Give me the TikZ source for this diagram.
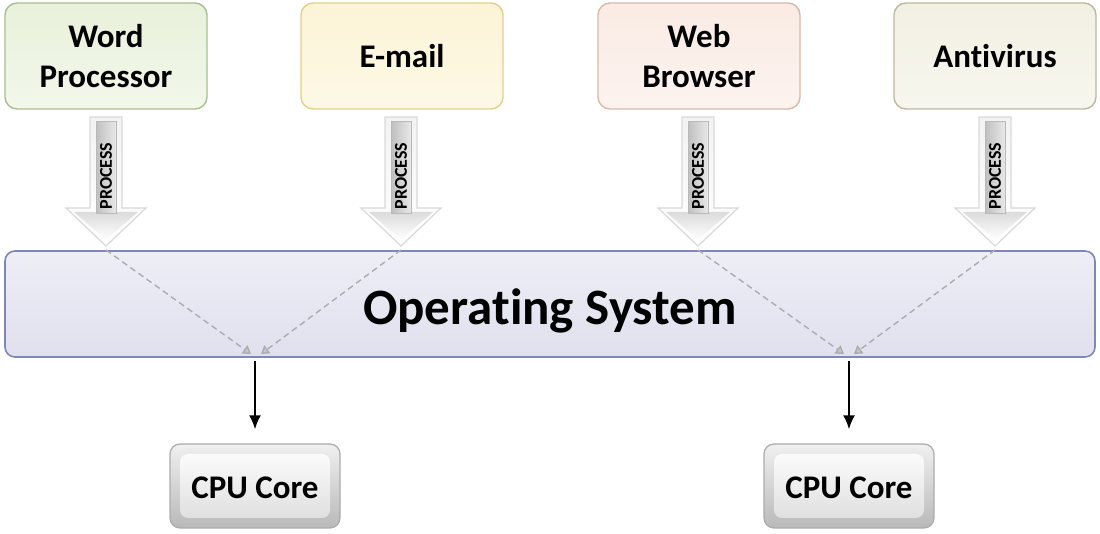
\documentclass[tikz,border=0pt]{standalone}
\usepackage{fontspec}
\setmainfont{Carlito}[Ligatures=NoCommon]
\usetikzlibrary{arrows.meta,shadings}
\definecolor{wpfill}{HTML}{E8F1DA}
\definecolor{wpdraw}{HTML}{A9BF8F}
\definecolor{emfill}{HTML}{FCF4D6}
\definecolor{emdraw}{HTML}{E3CF8A}
\definecolor{wbfill}{HTML}{FAEBE4}
\definecolor{wbdraw}{HTML}{D9B9AB}
\definecolor{avfill}{HTML}{F2F0E3}
\definecolor{avdraw}{HTML}{BDB8A2}
\definecolor{osfillt}{HTML}{EEEEF7}
\definecolor{osfillb}{HTML}{E0E0EE}
\definecolor{osdraw}{HTML}{8087B5}
\begin{document}
\begin{tikzpicture}[x=0.5pt,y=-0.5pt,
  appbox/.style={rounded corners=6pt, minimum width=101pt, minimum height=53pt,
    line width=0.7pt, align=center, font=\fontsize{16.5}{20}\selectfont\bfseries},
  cpubox/.style={rounded corners=5pt, minimum width=85pt, minimum height=42pt,
    draw=gray!65, line width=0.6pt, top color=gray!12, bottom color=gray!55,
    path picture={\shade[rounded corners=4pt, top color=white, bottom color=gray!28]
      ([shift={(5pt,-5pt)}]path picture bounding box.north west) rectangle
      ([shift={(-5pt,5pt)}]path picture bounding box.south east);}},
  cputext/.style={font=\fontsize{16.5}{20}\selectfont\bfseries},
  proctext/.style={rotate=90, font=\fontsize{9}{10}\selectfont\bfseries},
  dashconn/.style={gray!65, line width=0.7pt, dash pattern=on 3pt off 2pt,
    -{Triangle[width=5pt,length=4pt,fill=gray!45]}},
  blackarrow/.style={line width=1.1pt, -{Latex[length=7pt,width=6pt]}}
]
\useasboundingbox (0,0) rectangle (1100,534);
\fill[white] (0,0) rectangle (1100,534);

% application boxes
\node[appbox, draw=wpdraw, top color=wpfill, bottom color=wpfill!55] (wp) at (106,56) {Word\\Processor};
\node[appbox, draw=emdraw, top color=emfill, bottom color=emfill!60] (em) at (402,56) {E-mail};
\node[appbox, draw=wbdraw, top color=wbfill, bottom color=wbfill!60] (wb) at (699,56) {Web\\Browser};
\node[appbox, draw=avdraw, top color=avfill, bottom color=avfill!60] (av) at (995,56) {Antivirus};

% process arrows
\foreach \i/\x in {1/106,2/401,3/698,4/995}{
  \path[top color=gray!10, bottom color=white, draw=gray!30, line width=0.6pt]
    (\x-16,117) -- (\x+16,117) -- (\x+16,208) -- (\x+40,208) -- (\x,246)
    -- (\x-40,208) -- (\x-16,208) -- cycle;
  \path[top color=gray!28, bottom color=white]
    (\x-32,212) -- (\x+32,212) -- (\x,240) -- cycle;
  \path[left color=gray!50, right color=gray!18, draw=gray!55, line width=0.5pt]
    (\x-10,122) rectangle (\x+10,214);
  \node[proctext] (p\i) at (\x,176) {PROCESS};
  \coordinate (t\i) at (\x,250);
}

% operating system
\node[rounded corners=5pt, minimum width=545pt, minimum height=53pt,
  top color=osfillt, bottom color=osfillb, draw=osdraw, line width=0.8pt] (os) at (550,304) {};
\node[anchor=base, font=\fontsize{25.5}{30}\selectfont\bfseries] (ostext) at (550,325) {Operating System};

% dashed connectors
\coordinate (d1) at (251,354);
\coordinate (d2) at (261,354);
\coordinate (d3) at (844,354);
\coordinate (d4) at (854,354);
\draw[dashconn] (t1) -- (d1);
\draw[dashconn] (t2) -- (d2);
\draw[dashconn] (t3) -- (d3);
\draw[dashconn] (t4) -- (d4);

% CPU cores
\node[cpubox] (cpu1) at (255,486) {};
\node[cputext] (cpu1t) at (255,488) {CPU Core};
\node[cpubox] (cpu2) at (849,486) {};
\node[cputext] (cpu2t) at (849,488) {CPU Core};

\draw[blackarrow, shorten <=1.5pt, shorten >=7pt] (os.south -| cpu1.north) -- (cpu1.north);
\draw[blackarrow, shorten <=1.5pt, shorten >=7pt] (os.south -| cpu2.north) -- (cpu2.north);
\end{tikzpicture}
\end{document}
